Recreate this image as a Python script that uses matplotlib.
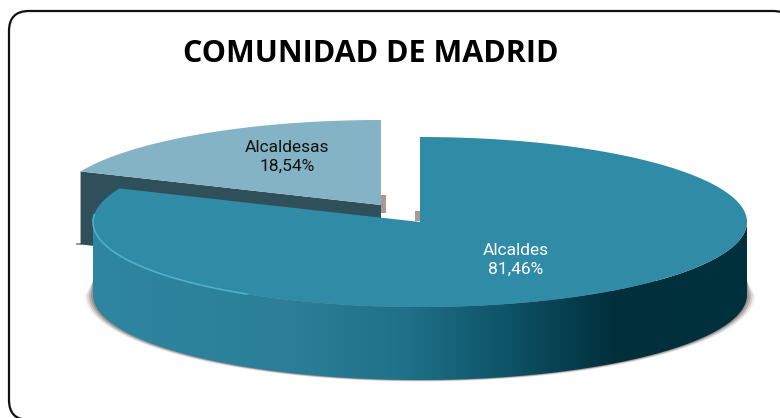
import matplotlib
matplotlib.use('Agg')
import matplotlib.pyplot as plt
import numpy as np
from matplotlib.colors import LinearSegmentedColormap
from matplotlib.patches import FancyBboxPatch, Polygon

# Data
categories = ['Alcaldes', 'Alcaldesas']
shares = [81.46, 18.54]
share_labels = ['81,46%', '18,54%']
title = 'COMUNIDAD DE MADRID'

# Pie geometry, in picture pixels
rx, ry, depth = 327, 85, 73
main_center = (420, 222)
small_center = (381, 205)

fig = plt.figure(figsize=(7.8, 4.18), dpi=100)
ax = fig.add_axes([0, 0, 1, 1])
ax.set_xlim(0, 780)
ax.set_ylim(418, 0)
ax.axis('off')

# angles run clockwise from twelve o'clock
def arc(center, start, end, n=300):
    t = np.radians(np.linspace(start, end, n))
    return center[0] + rx * np.sin(t), center[1] - ry * np.cos(t)

split = shares[0] / sum(shares) * 360

# the frame runs off the right and bottom of the picture
ax.add_patch(FancyBboxPatch((9, 11), 784, 409, boxstyle='round,pad=0,rounding_size=20',
                            fc='white', ec='#111111', lw=1.6, zorder=0))

# soft shadow below the main side, tapering into the side at both ends
t = np.linspace(0, np.pi, 400)
for grow, alpha in [(8, 0.1), (6, 0.18), (4, 0.28), (2, 0.4)]:
    shadow_x = main_center[0] + (rx + grow) * np.cos(t)
    shadow_y = main_center[1] + depth + (ry + grow * 0.2) * np.sin(t)
    ax.fill(np.r_[main_center[0] + rx, shadow_x, main_center[0] - rx],
            np.r_[main_center[1] + depth - 14, shadow_y, main_center[1] + depth - 14],
            color='#6d625c', alpha=alpha, lw=0, zorder=1)

# small slice: cut wall and top
x_small, y_small = arc(small_center, split, 360)
ax.add_patch(Polygon([(x_small[0], y_small[0]), small_center,
                      (small_center[0], small_center[1] + depth),
                      (x_small[0], y_small[0] + depth)],
                     fc='#2f4f5a', ec='none', zorder=2))
ax.fill(np.r_[small_center[0], x_small], np.r_[small_center[1], y_small],
        color='#84b3c6', lw=0, zorder=3)
ax.plot([x_small[0] - 4, x_small[0]], [y_small[0] + depth] * 2, color='#8a8078', lw=1.2, zorder=1.5)

# grey stubs behind the two slice corners
ax.fill_between([small_center[0], small_center[0] + 5], small_center[1] - 10, small_center[1] + 8,
                color='#a89a90', lw=0, zorder=1.5)
ax.fill_between([main_center[0] - 5, main_center[0]], main_center[1] - 11, main_center[1] - 1,
                color='#a89a90', lw=0, zorder=1.5)

# main slice: side with a horizontal gradient
x_low, y_low = arc(main_center, 90, 270)
side_x = np.r_[x_low, x_low[::-1]]
side_y = np.r_[y_low, y_low[::-1] + depth]
side = Polygon(np.c_[side_x, side_y], fc='none', ec='none', zorder=4)
ax.add_patch(side)
side_cmap = LinearSegmentedColormap.from_list('side', [
    (0.0, '#2f86a0'), (0.3, '#2b7f98'), (0.48, '#1f7088'),
    (0.62, '#0f566a'), (0.8, '#012f3c'), (1.0, '#01313e')])
grad = ax.imshow(np.linspace(0, 1, 256)[None, :], cmap=side_cmap, aspect='auto',
                 extent=(main_center[0] - rx, main_center[0] + rx, 418, 0), zorder=4)
grad.set_clip_path(side)
ax.set_xlim(0, 780)
ax.set_ylim(418, 0)

# main slice: top
x_main, y_main = arc(main_center, 0, split)
ax.fill(np.r_[main_center[0], x_main], np.r_[main_center[1], y_main],
        color='#2f8ba6', lw=0, zorder=5)

# light rim on the lower left of the top face
x_rim, y_rim = arc(main_center, 212, 275)
ax.plot(x_rim, y_rim, color='#4fb0cb', lw=1.2, zorder=6)

ax.text(371, 54, title, ha='center', va='center', fontsize=22, fontweight='bold',
        family='Open Sans', color='black', zorder=7)
ax.text(287, 157, f'{categories[1]}\n{share_labels[1]}', ha='center', va='center',
        fontsize=12.5, family='Roboto', color='#111111', linespacing=1.35, zorder=7)
ax.text(516, 260, f'{categories[0]}\n{share_labels[0]}', ha='center', va='center',
        fontsize=12.5, family='Roboto', color='white', linespacing=1.35, zorder=7)

fig.savefig('out.png', dpi=100)
